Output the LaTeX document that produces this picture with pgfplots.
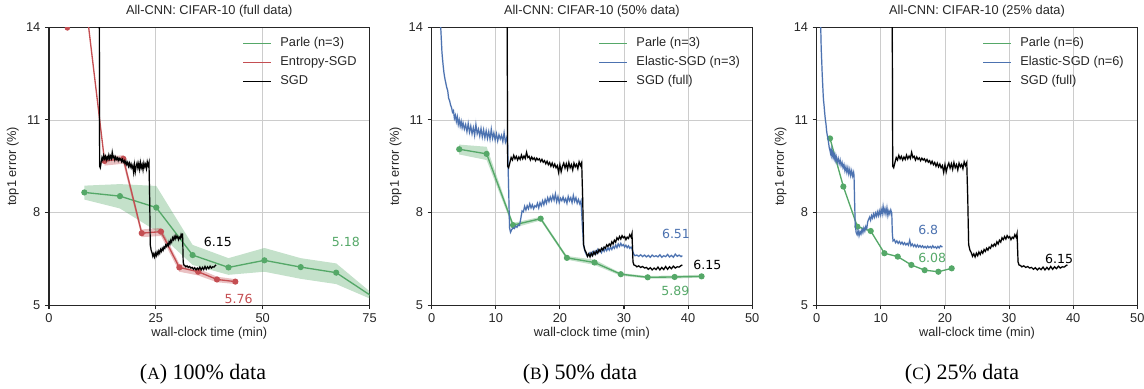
\documentclass[border=0pt]{standalone}
\usepackage{fontspec}
\setmainfont{Liberation Sans}
\newfontfamily\dejavu{DejaVu Sans}
\newfontfamily\capfont{Liberation Serif}
\usepackage{pgfplots}
\usepackage{pgfplotstable}
\pgfplotsset{compat=1.18}
\definecolor{pgreen}{HTML}{55A868}
\definecolor{pred}{HTML}{C44E52}
\definecolor{pblue}{HTML}{4C72B0}
\definecolor{txt}{HTML}{262626}

\pgfplotstableread{
x y
11.00 20.0
11.75 16.0
11.85 9.50
12.00 9.45
12.20 9.62
12.40 9.78
12.60 9.70
12.80 9.85
13.00 9.74
13.20 9.82
13.40 9.70
13.60 9.80
13.80 9.72
14.00 9.86
14.20 9.74
14.40 9.83
14.60 9.75
14.80 9.95
15.00 9.78
15.20 9.82
15.40 9.70
15.60 9.80
15.80 9.72
16.00 9.77
16.20 9.68
16.40 9.76
16.60 9.70
16.80 9.74
17.00 9.65
17.20 9.72
17.40 9.63
17.60 9.68
17.80 9.58
18.00 9.66
18.20 9.55
18.40 9.62
18.60 9.50
18.80 9.60
19.00 9.48
19.20 9.57
19.40 9.45
19.60 9.52
19.80 9.30
20.00 9.55
20.20 9.32
20.40 9.50
20.60 9.60
20.80 9.44
21.00 9.58
21.20 9.40
21.40 9.62
21.60 9.45
21.80 9.55
22.00 9.38
22.20 9.60
22.40 9.48
22.60 9.56
22.80 9.42
23.00 9.64
23.20 9.52
23.40 9.62
23.55 8.50
23.70 6.95
23.90 6.78
24.10 6.70
24.30 6.58
24.50 6.66
24.70 6.56
24.90 6.68
25.10 6.60
25.30 6.72
25.50 6.64
25.70 6.75
25.90 6.68
26.10 6.80
26.30 6.74
26.50 6.84
26.70 6.78
26.90 6.88
27.10 6.84
27.30 6.95
27.50 6.90
27.70 6.98
27.90 6.92
28.10 7.05
28.30 6.98
28.50 7.10
28.70 7.04
28.90 7.18
29.10 7.12
29.30 7.22
29.50 7.14
29.70 7.25
29.90 7.18
30.10 7.22
30.30 7.12
30.50 7.20
30.70 7.16
30.90 7.28
31.10 7.20
31.25 7.32
31.40 6.40
31.55 6.30
31.80 6.28
32.00 6.24
32.30 6.27
32.60 6.22
32.90 6.25
33.20 6.20
33.50 6.22
33.80 6.16
34.10 6.21
34.40 6.14
34.70 6.20
35.00 6.15
35.30 6.23
35.60 6.14
35.90 6.22
36.20 6.15
36.50 6.25
36.80 6.16
37.10 6.24
37.40 6.18
37.70 6.26
38.00 6.20
38.30 6.24
38.60 6.23
38.90 6.28
39.10 6.30
}\sgd

\pgfplotstableread{
x y
1.25 14.50
1.45 13.85
1.60 13.20
1.75 12.85
1.90 12.55
2.05 12.35
2.20 12.20
2.35 12.05
2.50 11.95
2.65 11.70
2.80 11.62
2.95 11.48
3.10 11.40
3.25 11.25
3.40 11.30
3.55 11.05
3.70 11.15
3.85 10.95
4.00 11.10
4.15 10.85
4.30 11.00
4.45 10.80
4.60 10.95
4.75 10.75
4.90 10.90
5.10 10.70
5.30 10.85
5.50 10.62
5.70 10.88
5.90 10.60
6.10 10.80
6.30 10.55
6.50 10.75
6.70 10.50
6.90 10.85
7.10 10.55
7.30 10.70
7.50 10.48
7.70 10.72
7.90 10.45
8.10 10.68
8.30 10.42
8.50 10.65
8.70 10.40
8.90 10.62
9.10 10.38
9.30 10.70
9.50 10.40
9.70 10.58
9.90 10.35
10.10 10.55
10.30 10.32
10.50 10.52
10.70 10.38
10.90 10.50
11.10 10.30
11.30 10.58
11.50 10.28
11.70 10.42
11.85 10.20
12.00 8.80
12.15 7.50
12.30 7.36
12.50 7.45
12.70 7.50
12.90 7.48
13.10 7.56
13.30 7.52
13.50 7.60
13.70 7.58
13.90 7.80
14.10 8.05
14.30 8.02
14.50 8.20
14.70 8.08
14.90 8.22
15.10 8.12
15.30 8.28
15.50 8.15
15.70 8.25
15.90 8.12
16.10 8.22
16.30 8.18
16.50 8.30
16.70 8.15
16.90 8.32
17.10 8.22
17.30 8.38
17.50 8.25
17.70 8.42
17.90 8.30
18.10 8.48
18.30 8.35
18.50 8.50
18.70 8.38
18.90 8.55
19.10 8.40
19.30 8.60
19.50 8.35
19.70 8.52
19.90 8.32
20.10 8.46
20.30 8.38
20.50 8.50
20.70 8.35
20.90 8.45
21.10 8.30
21.30 8.52
21.50 8.38
21.70 8.48
21.90 8.32
22.10 8.55
22.30 8.36
22.50 8.48
22.70 8.30
22.90 8.42
23.10 8.28
23.30 8.38
23.50 7.60
23.70 6.95
23.90 6.75
24.10 6.65
24.30 6.58
24.50 6.64
24.70 6.70
24.90 6.62
25.10 6.72
25.30 6.65
25.50 6.75
25.70 6.68
25.90 6.80
26.10 6.72
26.30 6.78
26.50 6.70
26.70 6.82
26.90 6.74
27.10 6.84
27.30 6.76
27.50 6.86
27.70 6.78
27.90 6.88
28.10 6.80
28.30 6.90
28.50 6.84
28.70 6.95
28.90 6.86
29.10 6.98
29.30 6.90
29.50 7.00
29.70 6.92
29.90 6.96
30.10 6.88
30.30 6.94
30.50 6.86
30.70 6.92
30.90 6.84
31.10 6.88
31.30 6.80
31.50 6.66
31.70 6.60
32.00 6.62
32.30 6.58
32.60 6.63
32.90 6.57
33.20 6.62
33.50 6.56
33.80 6.61
34.10 6.55
34.40 6.62
34.70 6.57
35.00 6.60
35.30 6.56
35.60 6.63
35.90 6.55
36.20 6.60
36.50 6.57
36.80 6.64
37.10 6.56
37.40 6.61
37.70 6.55
38.00 6.65
38.30 6.58
38.60 6.62
38.90 6.57
39.10 6.60
}\elasticB

\pgfplotstableread{
x y
0.55 14.60
0.70 13.30
0.85 12.50
0.95 12.05
1.05 11.65
1.15 11.45
1.25 11.20
1.35 11.00
1.45 10.85
1.55 10.62
1.65 10.50
1.75 10.40
1.85 10.25
1.95 10.10
2.05 10.02
2.15 9.92
2.25 10.05
2.35 9.85
2.45 9.95
2.55 9.80
2.65 9.90
2.75 9.75
2.85 9.85
2.95 9.70
3.05 9.80
3.20 9.62
3.35 9.75
3.50 9.58
3.65 9.70
3.80 9.52
3.95 9.62
4.10 9.45
4.25 9.55
4.40 9.35
4.55 9.48
4.70 9.30
4.85 9.45
5.00 9.25
5.15 9.40
5.30 9.20
5.45 9.35
5.60 9.18
5.75 9.30
5.82 9.20
5.90 8.40
6.00 7.60
6.15 7.35
6.30 7.28
6.45 7.42
6.60 7.25
6.75 7.38
6.90 7.30
7.05 7.45
7.20 7.35
7.35 7.50
7.50 7.40
7.65 7.55
7.80 7.48
7.95 7.70
8.10 7.78
8.25 7.85
8.40 7.75
8.55 7.90
8.70 7.82
8.85 7.95
9.00 7.85
9.15 7.98
9.30 7.88
9.45 8.02
9.60 7.90
9.75 8.05
9.90 7.92
10.05 8.10
10.20 7.95
10.35 8.20
10.50 7.98
10.65 8.12
10.80 7.95
10.95 8.15
11.10 7.90
11.25 8.05
11.40 7.95
11.55 8.08
11.70 7.98
11.80 7.30
11.90 7.08
12.10 7.12
12.30 7.02
12.50 7.08
12.70 7.00
12.90 7.06
13.10 6.98
13.30 7.04
13.50 6.96
13.70 7.02
13.90 6.95
14.10 7.00
14.30 6.94
14.50 7.10
14.70 6.92
14.90 6.98
15.10 6.90
15.30 6.96
15.50 6.88
15.70 6.95
15.90 6.88
16.10 6.93
16.30 6.87
16.50 6.92
16.70 6.86
16.90 6.90
17.10 6.85
17.30 6.91
17.50 6.86
17.70 6.90
17.90 6.85
18.10 6.92
18.30 6.86
18.50 6.89
18.70 6.84
18.90 6.90
19.10 6.85
19.30 6.92
19.60 6.88
}\elasticC

\tikzset{
  ann/.style={anchor=west, font=\dejavu\fontsize{9.4}{10}\selectfont, text=#1},
  parle/.style={pgreen, line width=1pt, mark=*, mark size=1.8pt, mark options={solid, fill=pgreen, draw=pgreen}},
  entropy/.style={pred, line width=1pt, mark=*, mark size=1.8pt, mark options={solid, fill=pred, draw=pred}},
}
\pgfplotsset{
  panel/.style={
    scale only axis, width=240.4pt, height=208.3pt,
    ymin=5, ymax=14, ytick={5,8,11,14},
    grid=major, grid style={color=black!20, line width=0.6pt},
    axis line style={txt, line width=0.8pt},
    tick align=outside, tick pos=left, major tick length=3pt,
    tick style={txt, line width=0.8pt},
    ticklabel style={font=\fontsize{9.6}{10}\selectfont, color=txt},
    /pgf/number format/assume math mode=true,
    xlabel={wall-clock time (min)}, ylabel={top1 error (\%)},
    label style={font=\fontsize{9.6}{10}\selectfont, color=txt},
    x label style={at={(axis description cs:0.5,-0.1007)}, anchor=center},
    y label style={at={(axis description cs:-0.1125,0.5)}, anchor=center},
    title style={at={(axis description cs:0.5,1.029)}, anchor=center, font=\fontsize{9.6}{10}\selectfont, color=txt},
    clip marker paths=true,
    legend cell align=left,
    legend style={draw=none, fill=none, inner sep=0pt, anchor=north west,
      font=\fontsize{9.6}{10}\selectfont, text=txt, row sep=1pt,
      nodes={inner sep=2pt, text height=7pt, text depth=2.2pt},
      /tikz/every odd column/.append style={column sep=4.5pt}},
    legend image code/.code={\draw[#1] (0pt,0pt) -- (21pt,0pt);},
  },
  band/.style={fill=#1, fill opacity=0.35, draw=none, forget plot},
  halo/.style={#1, line width=1.4pt, opacity=0.12, forget plot},
}

\begin{document}
\begin{tikzpicture}
\path[use as bounding box] (-36.75pt,-62.25pt) rectangle (821.25pt,228.8pt);

% ---------- Panel A ----------
\begin{axis}[panel, at={(0pt,0pt)}, anchor=south west,
  xmin=0, xmax=75, xtick={0,25,50,75},
  title={All-CNN: CIFAR-10 (full data)},
  legend style={at={(axis description cs:0.603,0.975)}}]
\addlegendimage{pgreen, line width=0.9pt}
\addlegendentry{Parle (n=3)}
\addlegendimage{pred, line width=0.9pt}
\addlegendentry{Entropy-SGD}
\addlegendimage{black, line width=0.9pt}
\addlegendentry{SGD}
\addplot[band=pgreen] coordinates {(8.27,8.87) (16.6,8.92) (25.1,8.86) (33.6,6.95) (42.0,6.52) (50.4,6.85) (58.9,6.52) (67.2,6.35) (75.6,5.38)
  (75.6,5.18) (67.2,5.68) (58.9,5.85) (50.4,6.08) (42.0,5.98) (33.6,6.30) (25.1,7.40) (16.6,8.13) (8.27,8.42)} -- cycle;
\addplot[band=pred] coordinates {(13.0,9.80) (17.4,9.86) (21.7,7.45) (26.2,7.50) (30.5,6.34) (34.9,6.18) (39.3,5.92) (43.6,5.84)
  (43.6,5.68) (39.3,5.74) (34.9,5.96) (30.5,6.08) (26.2,7.24) (21.7,7.20) (17.4,9.58) (13.0,9.52)} -- cycle;
\addplot[halo=black] table[x=x,y=y] {\sgd};
\addplot[parle, forget plot] coordinates {(8.27,8.65) (16.6,8.53) (25.1,8.16) (33.6,6.62) (42.0,6.22) (50.4,6.45) (58.9,6.23) (67.2,6.05) (75.6,5.28)};
\addplot[entropy, forget plot] coordinates {(4.3,19.8) (13.0,9.67) (17.4,9.74) (21.7,7.33) (26.2,7.38) (30.5,6.22) (34.9,6.08) (39.3,5.83) (43.6,5.76)};
\addplot[black, line width=0.9pt, forget plot] table[x=x,y=y] {\sgd};
\addplot[only marks, mark=*, mark size=1.8pt, pred, forget plot] coordinates {(4.3,13.98)};
\node[ann=black] at (axis cs:35.15,7.03) {6.15};
\node[ann=pgreen] at (axis cs:65.1,7.03) {5.18};
\node[ann=pred] at (axis cs:40.0,5.20) {5.76};
\end{axis}

% ---------- Panel B ----------
\begin{axis}[panel, at={(287.0pt,0pt)}, anchor=south west,
  xmin=0, xmax=50, xtick={0,10,20,30,40,50},
  title={All-CNN: CIFAR-10 (50\% data)},
  legend style={at={(axis description cs:0.52,0.975)}}]
\addlegendimage{pgreen, line width=0.9pt}
\addlegendentry{Parle (n=3)}
\addlegendimage{pblue, line width=0.9pt}
\addlegendentry{Elastic-SGD (n=3)}
\addlegendimage{black, line width=0.9pt}
\addlegendentry{SGD (full)}
\addplot[band=pgreen] coordinates {(4.3,10.20) (8.57,10.13) (12.7,7.66) (17.0,7.86) (21.1,6.59) (25.4,6.47) (29.5,6.04) (33.7,5.94) (37.9,5.96) (42.1,5.98)
  (42.1,5.89) (37.9,5.86) (33.7,5.86) (29.5,5.95) (25.4,6.30) (21.1,6.47) (17.0,7.74) (12.7,7.50) (8.57,9.70) (4.3,9.88)} -- cycle;
\addplot[halo=pblue] table[x=x,y=y] {\elasticB};
\addplot[halo=black] table[x=x,y=y] {\sgd};
\addplot[parle, forget plot] coordinates {(4.3,10.05) (8.57,9.90) (12.7,7.59) (17.0,7.80) (21.1,6.53) (25.4,6.38) (29.5,6.00) (33.7,5.90) (37.9,5.91) (42.1,5.93)};
\addplot[pblue, line width=0.9pt, forget plot] table[x=x,y=y] {\elasticB};
\addplot[black, line width=0.9pt, forget plot] table[x=x,y=y] {\sgd};
\node[ann=pblue] at (axis cs:35.2,7.29) {6.51};
\node[ann=black] at (axis cs:40.1,6.30) {6.15};
\node[ann=pgreen] at (axis cs:35.1,5.45) {5.89};
\end{axis}

% ---------- Panel C ----------
\begin{axis}[panel, at={(575.8pt,0pt)}, anchor=south west,
  xmin=0, xmax=50, xtick={0,10,20,30,40,50},
  title={All-CNN: CIFAR-10 (25\% data)},
  legend style={at={(axis description cs:0.516,0.975)}}]
\addlegendimage{pgreen, line width=0.9pt}
\addlegendentry{Parle (n=6)}
\addlegendimage{pblue, line width=0.9pt}
\addlegendentry{Elastic-SGD (n=6)}
\addlegendimage{black, line width=0.9pt}
\addlegendentry{SGD (full)}
\addplot[halo=pblue] table[x=x,y=y] {\elasticC};
\addplot[halo=black] table[x=x,y=y] {\sgd};
\addplot[parle, forget plot] coordinates {(2.07,10.40) (4.15,8.84) (6.34,7.54) (8.42,7.40) (10.55,6.68) (12.63,6.57) (14.76,6.30) (16.84,6.13) (18.97,6.08) (21.05,6.19)};
\addplot[pblue, line width=0.9pt, forget plot] table[x=x,y=y] {\elasticC};
\addplot[black, line width=0.9pt, forget plot] table[x=x,y=y] {\sgd};
\node[ann=pblue] at (axis cs:15.1,7.43) {6.8};
\node[ann=pgreen] at (axis cs:15.1,6.53) {6.08};
\node[ann=black] at (axis cs:34.9,6.51) {6.15};
\end{axis}

% ---------- captions ----------
\node[font=\capfont\fontsize{16.5}{18}\selectfont, text=black] at (115.5pt,-51.75pt) {({\fontsize{13}{14}\selectfont A}) 100\% data};
\node[font=\capfont\fontsize{16.5}{18}\selectfont, text=black] at (398.25pt,-51.75pt) {({\fontsize{13}{14}\selectfont B}) 50\% data};
\node[font=\capfont\fontsize{16.5}{18}\selectfont, text=black] at (684.75pt,-51.75pt) {({\fontsize{13}{14}\selectfont C}) 25\% data};
\end{tikzpicture}
\end{document}
